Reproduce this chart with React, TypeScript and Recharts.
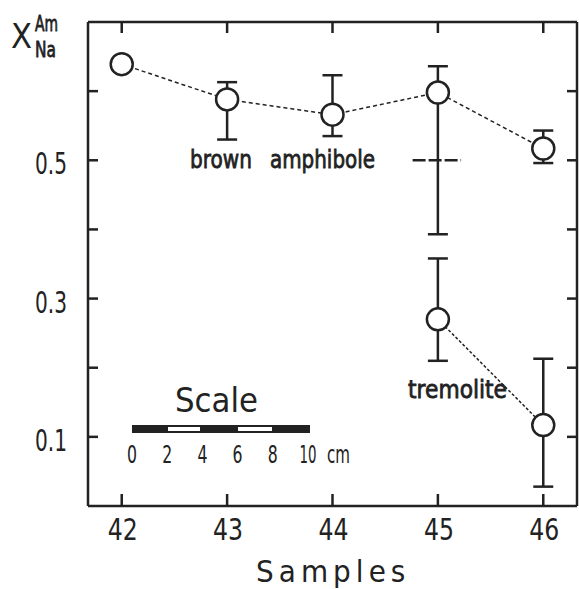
import { ComposedChart, Line, XAxis, YAxis, ErrorBar } from 'recharts';

const xTicks = [42, 43, 44, 45, 46];
const yTicks = [0.1, 0.2, 0.3, 0.4, 0.5, 0.6];
const yLabelled = [0.1, 0.3, 0.5];

// brown amphibole
const brownX = [42, 43, 44, 45, 46];
const brownY = [0.639, 0.588, 0.566, 0.598, 0.517];
const brownLow = [0.639, 0.53, 0.535, 0.393, 0.496];
const brownHigh = [0.639, 0.613, 0.623, 0.636, 0.543];

// tremolite
const tremX = [45, 46];
const tremY = [0.27, 0.117];
const tremLow = [0.21, 0.028];
const tremHigh = [0.358, 0.213];

// dashed bulk marker at sample 45
const bulkX = [44.76, 45.22];
const bulkY = [0.5, 0.5];

const scaleLabels = ['0', '2', '4', '6', '8', '10'];

const INK = '#222';
const FONT = '"DejaVu Sans", sans-serif';

const brownData = brownX.map((x, i) => ({ x, y: brownY[i], err: [brownY[i] - brownLow[i], brownHigh[i] - brownY[i]] }));
const tremData = tremX.map((x, i) => ({ x, y: tremY[i], err: [tremY[i] - tremLow[i], tremHigh[i] - tremY[i]] }));
const bulkData = bulkX.map((x, i) => ({ x, y: bulkY[i] }));

// narrow text: the original lettering is a tall condensed face
const T = ({ x, y, w, size, anchor = 'start', weight = 'normal', heavy = false, children }: any) => (
  <text x={x} y={y} fontSize={size} fontFamily={FONT} fontWeight={weight} fill={INK} textAnchor={anchor}
    stroke={heavy ? INK : 'none'} strokeWidth={heavy ? 0.8 : 0}
    textLength={w} lengthAdjust="spacingAndGlyphs">{children}</text>
);

const OpenDot = (props: any) => {
  const { cx, cy, key } = props;
  if (cx == null || cy == null) return null;
  return <circle key={key} cx={cx} cy={cy} r={11} fill="#fff" stroke={INK} strokeWidth={2.5} />;
};

const BottomTick = (props: any) => {
  const { x, y, payload } = props;
  return (
    <g>
      <line x1={x} y1={y} x2={x} y2={y - 12} stroke={INK} strokeWidth={2.5} />
      <T x={x + 1} y={y + 34} w={30} size={31} anchor="middle">{payload.value}</T>
    </g>
  );
};

const TopTick = (props: any) => {
  const { x, y } = props;
  return <line x1={x} y1={y} x2={x} y2={y + 11} stroke={INK} strokeWidth={2.5} />;
};

const LeftTick = (props: any) => {
  const { x, y, payload } = props;
  const show = yLabelled.includes(payload.value);
  return (
    <g>
      <line x1={x} y1={y} x2={x + 10} y2={y} stroke={INK} strokeWidth={2.5} />
      {show && <T x={x - 21} y={y + 14} w={32} size={31} anchor="end">{payload.value.toFixed(1)}</T>}
    </g>
  );
};

const RightTick = (props: any) => {
  const { x, y } = props;
  return <line x1={x} y1={y} x2={x - 10} y2={y} stroke={INK} strokeWidth={2.5} />;
};

export default function App() {
  const axisLine = { stroke: INK, strokeWidth: 2.5 };
  return (
    <div style={{ position: 'relative', width: 579, height: 589, background: '#fff' }}>
      <style>{`body{margin:0}`}</style>
      <ComposedChart width={579} height={589} margin={{ top: 21, right: 1, left: 0, bottom: 0 }}>
        <XAxis dataKey="x" type="number" domain={[41.68, 46.32]} ticks={xTicks} height={83}
          axisLine={axisLine} tickLine={false} tickSize={0} tickMargin={0} tick={<BottomTick />} allowDataOverflow />
        <XAxis xAxisId="top" dataKey="x" orientation="top" type="number" domain={[41.68, 46.32]} ticks={xTicks} height={1}
          axisLine={axisLine} tickLine={false} tickSize={0} tickMargin={0} tick={<TopTick />} allowDataOverflow />
        <YAxis type="number" domain={[0, 0.7]} ticks={yTicks} width={88}
          axisLine={axisLine} tickLine={false} tickSize={0} tickMargin={0} tick={<LeftTick />} allowDataOverflow />
        <YAxis yAxisId="right" orientation="right" type="number" domain={[0, 0.7]} ticks={yTicks} width={1}
          axisLine={axisLine} tickLine={false} tickSize={0} tickMargin={0} tick={<RightTick />} allowDataOverflow />

        {/* invisible series binding the frame axes */}
        <Line xAxisId="top" yAxisId="right" data={bulkData} dataKey="y" stroke="none" dot={false} isAnimationActive={false} />

        <Line data={bulkData} dataKey="y" stroke={INK} strokeWidth={2.5} strokeDasharray="13 3" dot={false} isAnimationActive={false} />
        <Line data={brownData} dataKey="y" stroke={INK} strokeWidth={1.5} strokeDasharray="4 3" dot={<OpenDot />} isAnimationActive={false}>
          <ErrorBar dataKey="err" direction="y" width={10} strokeWidth={2.5} stroke={INK} />
        </Line>
        <Line data={tremData} dataKey="y" stroke={INK} strokeWidth={1.5} strokeDasharray="3 2" dot={<OpenDot />} isAnimationActive={false}>
          <ErrorBar dataKey="err" direction="y" width={10} strokeWidth={2.5} stroke={INK} />
        </Line>
      </ComposedChart>

      <svg style={{ position: 'absolute', left: 0, top: 0 }} width={579} height={589}>
        {/* y axis label */}
        <T x={11} y={48} w={21} size={34}>X</T>
        <T x={35} y={31} w={23} size={21} heavy>Am</T>
        <T x={35} y={57} w={21} size={21} heavy>Na</T>

        {/* x axis title, letter-spaced narrow capitals */}
        <g transform="translate(256,582) scale(0.9,1)">
          <text x={0} y={0} fontSize={31} fontFamily={FONT} fill={INK} textLength={166} lengthAdjust="spacing">Samples</text>
        </g>

        {/* annotations */}
        <T x={190} y={168} w={62} size={24} heavy>brown</T>
        <T x={270} y={168} w={105} size={24} heavy>amphibole</T>
        <T x={408} y={398} w={99} size={24} heavy>tremolite</T>

        {/* scale bar */}
        <T x={175} y={412} w={83} size={33}>Scale</T>
        <rect x={132} y={425} width={178} height={8} fill={INK} />
        <rect x={168} y={427} width={32} height={4} fill="#fff" />
        <rect x={238} y={427} width={34} height={4} fill="#fff" />
        {scaleLabels.map((s, i) => (
          <T key={s} x={132 + i * 35.2} y={463} w={s.length > 1 ? 17 : 10} size={24} anchor="middle">{s}</T>
        ))}
        <T x={327} y={463} w={23} size={24}>cm</T>
      </svg>
    </div>
  );
}
